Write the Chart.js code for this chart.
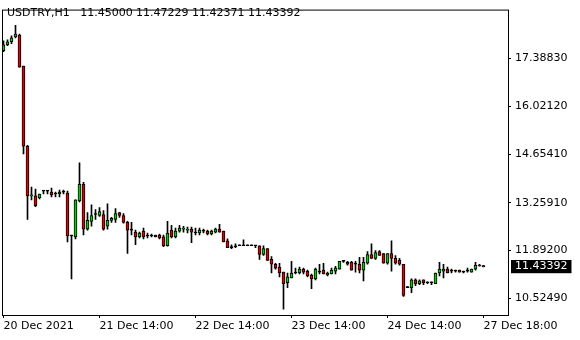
<!DOCTYPE html>
<html>
<head>
<meta charset="utf-8">
<script src="https://cdn.jsdelivr.net/npm/chart.js@4.4.1/dist/chart.umd.min.js"></script>
<style>
    body { margin: 0; background: #fff; }
    #wrap { position: relative; width: 580px; height: 340px; }
    #chartTitle {
        position: absolute; left: 7px; top: 6px;
        font: 11px "DejaVu Sans", sans-serif; line-height: 13px;
        color: #000; white-space: pre;
    }
</style>
</head>
<body>
<div id="wrap">
    <canvas id="priceChart" width="580" height="340"></canvas>
    <div id="chartTitle">USDTRY,H1   11.45000 11.47229 11.42371 11.43392</div>
</div>
<script>
// Dados das velas (H1)
const openPrices = [
    17.611, 17.779, 17.863, 18.002, 18.058, 17.165, 14.877, 13.455, 13.455, 13.399,
    13.594, 13.594, 13.566, 13.510, 13.510, 13.566, 13.538, 12.310, 12.282, 13.315,
    13.789, 12.506, 12.729, 12.924, 12.896, 12.924, 12.589, 12.757, 12.785, 12.980,
    12.896, 12.701, 12.478, 12.422, 12.282, 12.450, 12.310, 12.310, 12.338, 12.338,
    12.282, 12.031, 12.478, 12.282, 12.450, 12.506, 12.478, 12.506, 12.394, 12.394,
    12.450, 12.450, 12.366, 12.422, 12.506, 12.450, 12.171, 11.975, 12.003, 12.031,
    12.031, 12.031, 12.031, 12.031, 12.031, 11.780, 11.947, 11.640, 11.501, 11.417,
    11.278, 10.971, 11.110, 11.250, 11.250, 11.361, 11.306, 11.194, 11.082, 11.278,
    11.333, 11.194, 11.222, 11.306, 11.361, 11.585, 11.557, 11.557, 11.501, 11.501,
    11.333, 11.529, 11.780, 11.668, 11.864, 11.808, 11.529, 11.808, 11.668, 11.612,
    11.501, 10.831, 10.831, 11.054, 10.943, 11.054, 10.971, 10.971, 10.943, 11.250,
    11.306, 11.361, 11.306, 11.306, 11.333, 11.278, 11.306, 11.278, 11.361, 11.473,
    11.45000
];
const highPrices = [
    17.891, 17.918, 18.030, 18.337, 18.086, 17.165, 14.905, 13.706, 13.650, 13.510,
    13.594, 13.594, 13.678, 13.566, 13.622, 13.622, 13.594, 12.338, 13.343, 14.403,
    13.845, 12.980, 13.203, 13.064, 13.120, 13.036, 13.231, 12.840, 13.092, 12.980,
    12.952, 12.729, 12.701, 12.478, 12.422, 12.533, 12.394, 12.366, 12.338, 12.366,
    12.338, 12.729, 12.617, 12.533, 12.617, 12.589, 12.561, 12.561, 12.533, 12.533,
    12.506, 12.478, 12.478, 12.533, 12.645, 12.450, 12.226, 12.059, 12.087, 12.031,
    12.199, 12.031, 12.031, 12.031, 12.031, 12.031, 11.947, 11.724, 11.529, 11.529,
    11.278, 11.250, 11.585, 11.389, 11.417, 11.389, 11.333, 11.222, 11.389, 11.501,
    11.529, 11.278, 11.389, 11.445, 11.585, 11.612, 11.585, 11.585, 11.585, 11.696,
    11.696, 11.864, 12.087, 11.892, 11.892, 11.808, 11.808, 12.171, 11.752, 11.668,
    11.501, 10.831, 11.082, 11.082, 11.054, 11.054, 10.999, 10.999, 11.250, 11.557,
    11.501, 11.417, 11.361, 11.333, 11.333, 11.306, 11.389, 11.361, 11.557, 11.501,
    11.47229
];
const lowPrices = [
    17.584, 17.751, 17.807, 17.974, 17.137, 14.654, 12.785, 13.343, 13.147, 13.371,
    13.510, 13.510, 13.427, 13.427, 13.427, 13.510, 12.143, 11.082, 12.226, 13.287,
    12.338, 12.478, 12.589, 12.785, 12.868, 12.478, 12.506, 12.701, 12.701, 12.840,
    12.673, 11.808, 12.338, 12.059, 12.254, 12.226, 12.254, 12.282, 12.282, 12.226,
    12.003, 12.020, 12.254, 12.254, 12.422, 12.422, 12.394, 12.115, 12.338, 12.338,
    12.394, 12.338, 12.338, 12.394, 12.422, 12.143, 11.975, 11.947, 11.975, 12.031,
    12.031, 12.031, 12.031, 11.975, 11.640, 11.752, 11.612, 11.250, 11.361, 11.138,
    10.218, 10.831, 11.110, 11.222, 11.222, 11.222, 11.138, 10.803, 11.054, 11.222,
    11.222, 11.166, 11.222, 11.222, 11.361, 11.557, 11.473, 11.333, 11.278, 11.250,
    11.027, 11.501, 11.668, 11.640, 11.752, 11.529, 11.501, 11.306, 11.501, 11.473,
    10.580, 10.831, 10.692, 10.887, 10.915, 10.915, 10.943, 10.915, 10.943, 11.166,
    11.110, 11.250, 11.250, 11.278, 11.278, 11.250, 11.278, 11.278, 11.333, 11.445,
    11.42371
];
const closePrices = [
    17.779, 17.863, 17.974, 18.086, 17.137, 14.877, 13.455, 13.482, 13.175, 13.510,
    13.594, 13.594, 13.482, 13.510, 13.566, 13.566, 12.310, 12.310, 13.343, 13.789,
    12.506, 12.757, 12.896, 12.924, 13.008, 12.506, 12.757, 12.813, 12.952, 12.896,
    12.701, 12.478, 12.478, 12.282, 12.394, 12.282, 12.310, 12.310, 12.282, 12.254,
    12.031, 12.394, 12.282, 12.450, 12.533, 12.533, 12.506, 12.422, 12.394, 12.478,
    12.450, 12.366, 12.450, 12.506, 12.422, 12.143, 11.975, 11.975, 12.003, 12.031,
    12.031, 12.031, 12.031, 12.031, 11.780, 11.947, 11.612, 11.501, 11.389, 11.250,
    10.943, 11.138, 11.250, 11.250, 11.361, 11.278, 11.166, 11.082, 11.361, 11.278,
    11.222, 11.250, 11.333, 11.389, 11.585, 11.585, 11.501, 11.333, 11.501, 11.333,
    11.557, 11.780, 11.668, 11.836, 11.752, 11.529, 11.808, 11.668, 11.529, 11.501,
    10.608, 10.831, 11.054, 10.943, 11.027, 10.971, 10.971, 10.971, 11.250, 11.361,
    11.361, 11.250, 11.306, 11.306, 11.278, 11.278, 11.306, 11.361, 11.473, 11.450,
    11.43392
];

// Eixo do tempo (índice da barra -> rótulo)
const timeTickBars = [0, 24, 48, 72, 96, 120];
const timeTickLabels = ['20 Dec 2021', '21 Dec 14:00', '22 Dec 14:00', '23 Dec 14:00', '24 Dec 14:00', '27 Dec 18:00'];

// Eixo de preço
const priceTicks = [17.38830, 16.02120, 14.65410, 13.25910, 11.89200, 10.52490];
const priceMin = 10.05;
const priceMax = 18.755;

const lastPrice = closePrices[closePrices.length - 1];
const FONT = { family: '"DejaVu Sans", sans-serif', size: 11 };

// Cores das velas
const candleColors = openPrices.map((o, i) => {
    if (closePrices[i] > o) return '#00d000';
    if (closePrices[i] < o) return '#e00000';
    return '#000000';
});

const bodyData = openPrices.map((o, i) => ({ x: i, y: [o, closePrices[i]] }));
const wickData = openPrices.map((o, i) => ({ x: i, y: [lowPrices[i], highPrices[i]] }));

// Moldura da área do gráfico
const frame = {
    id: 'frame',
    afterDatasetsDraw(chart) {
        const { ctx, chartArea: a } = chart;
        ctx.save();
        ctx.strokeStyle = '#000';
        ctx.lineWidth = 1;
        ctx.strokeRect(a.left - 0.5, a.top - 0.5, a.right - a.left + 1, a.bottom - a.top + 1);
        ctx.restore();
    }
};

new Chart(document.getElementById('priceChart'), {
    type: 'bar',
    data: {
        datasets: [{
            data: bodyData,
            backgroundColor: candleColors,
            borderColor: '#000',
            borderWidth: 1,
            borderSkipped: false,
            barThickness: 3,
            minBarLength: 1,
            grouped: false,
            order: 0
        }, {
            data: wickData,
            backgroundColor: '#000',
            borderWidth: 0,
            barThickness: 1,
            minBarLength: 1,
            grouped: false,
            order: 1
        }]
    },
    options: {
        responsive: false,
        animation: false,
        layout: { padding: { left: 3, top: 3, right: 0, bottom: 0 } },
        plugins: {
            legend: { display: false },
            tooltip: { enabled: false }
        },
        scales: {
            x: {
                type: 'linear',
                offset: false,
                min: -0.125,
                max: 126.125,
                border: { display: false },
                grid: { offset: false, drawOnChartArea: false, drawTicks: true, tickLength: 3, tickColor: '#000' },
                afterBuildTicks: (scale) => {
                    scale.ticks = timeTickBars.map(v => ({ value: v }));
                },
                afterFit: (scale) => { scale.height = 25; },
                ticks: {
                    autoSkip: false,
                    maxRotation: 0,
                    align: 'start',
                    padding: 2,
                    color: '#000',
                    font: FONT,
                    callback: (value, index) => timeTickLabels[index]
                }
            },
            y: {
                position: 'right',
                min: priceMin,
                max: priceMax,
                border: { display: false },
                grid: {
                    drawOnChartArea: false,
                    drawTicks: true,
                    tickLength: 3,
                    tickColor: (ctx) => (ctx.tick && ctx.tick.value === lastPrice) ? 'rgba(0,0,0,0)' : '#000'
                },
                afterBuildTicks: (scale) => {
                    scale.ticks = priceTicks.concat([lastPrice]).map(v => ({ value: v }));
                },
                afterFit: (scale) => { scale.width = 72; },
                ticks: {
                    autoSkip: false,
                    padding: 4,
                    font: FONT,
                    color: (ctx) => (ctx.tick && ctx.tick.value === lastPrice) ? '#fff' : '#000',
                    showLabelBackdrop: (ctx) => !!(ctx.tick && ctx.tick.value === lastPrice),
                    backdropColor: '#000',
                    backdropPadding: { top: 0, bottom: 0, left: 4, right: 4 },
                    callback: (value) => Number(value).toFixed(5)
                }
            }
        }
    },
    plugins: [frame]
});
</script>
</body>
</html>
